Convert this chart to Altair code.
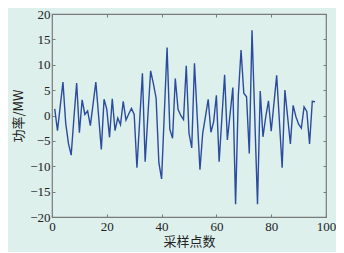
import altair as alt
import pandas as pd

samples = list(range(1, 97))
power = [1.3, -3.0, 1.8, 6.6, -1.5, -5.5, -7.8, -0.5, 6.4, -3.4,
         3.1, 0.2, 0.9, -2.0, 2.3, 6.6, 0.0, -6.7, 3.2, 1.2,
         -4.3, 3.3, -3.0, -0.5, -1.8, 2.8, -0.9, 0.3, 1.4, 0.2,
         -10.3, -1.0, 8.3, -9.1, 0.0, 8.8, 6.3, 3.4, -9.3, -12.5,
         0.5, 13.4, -2.7, -4.5, 7.3, 1.2, 0.0, -0.8, 9.8, -3.5,
         -6.4, 10.3, -0.2, -10.7, -3.5, -0.2, 3.2, -3.3, -1.2, 4.0,
         -9.1, -0.5, 8.0, -4.8, 0.3, 5.5, -17.5, 3.9, 12.9, 4.4,
         3.7, -7.5, 16.8, -0.3, -17.5, 4.8, -4.2, -0.3, 2.9, -3.1,
         2.4, 7.9, -1.2, -10.3, 5.0, -0.3, -5.6, 2.0, -0.2, -1.7,
         -2.5, 1.7, 0.8, -5.6, 2.8, 2.7]
x_ticks = [0, 20, 40, 60, 80, 100]
y_ticks = [-20, -15, -10, -5, 0, 5, 10, 15, 20]

df = pd.DataFrame({"x": samples, "y": power})

BG = "#ddf0ec"
AX = "#7a7a7a"
common = dict(tickColor=AX, tickSize=3, domain=False, grid=False, labelFlush=False,
              labelFont="Liberation Serif", labelFontSize=13, labelColor="#222")

xs = alt.Scale(domain=[0, 100], nice=False)
ys = alt.Scale(domain=[-20, 20], nice=False)

main = alt.Chart(df).mark_line(color="#2b4b9e", strokeWidth=1.4).encode(
    x=alt.X("x:Q", scale=xs, axis=alt.Axis(orient="bottom", values=x_ticks, offset=-3,
            labelPadding=3, title="采样点数", titleFont="Noto Sans CJK SC",
            titleFontSize=13, titleFontWeight="normal", titleColor="#222",
            titlePadding=2, **common)),
    y=alt.Y("y:Q", scale=ys, axis=alt.Axis(orient="left", values=y_ticks, offset=-3,
            labelPadding=2, title="功率/MW", titleFont="Noto Sans CJK SC",
            titleFontSize=13, titleFontWeight="normal", titleColor="#222",
            titlePadding=4, **common)),
)

ghost = alt.Chart(df).mark_line(strokeOpacity=0).encode(
    x=alt.X("x:Q", scale=xs, axis=alt.Axis(orient="top", values=x_ticks, offset=-3,
            labels=False, title=None, tickColor=AX, tickSize=3, domain=False, grid=False)),
    y=alt.Y("y:Q", scale=ys, axis=alt.Axis(orient="right", values=y_ticks, offset=-3,
            labels=False, title=None, tickColor=AX, tickSize=3, domain=False, grid=False)),
)

chart = alt.layer(main, ghost).resolve_axis(x="independent", y="independent").properties(
    width=274, height=203,
    autosize=alt.AutoSizeParams(type="none"),
    padding={"left": 44, "top": 6, "right": 10, "bottom": 35},
    background=BG,
).configure_view(stroke=AX, strokeWidth=1.2, fill=BG)

chart.save("out.html", embed_options={"renderer": "svg", "actions": False})
